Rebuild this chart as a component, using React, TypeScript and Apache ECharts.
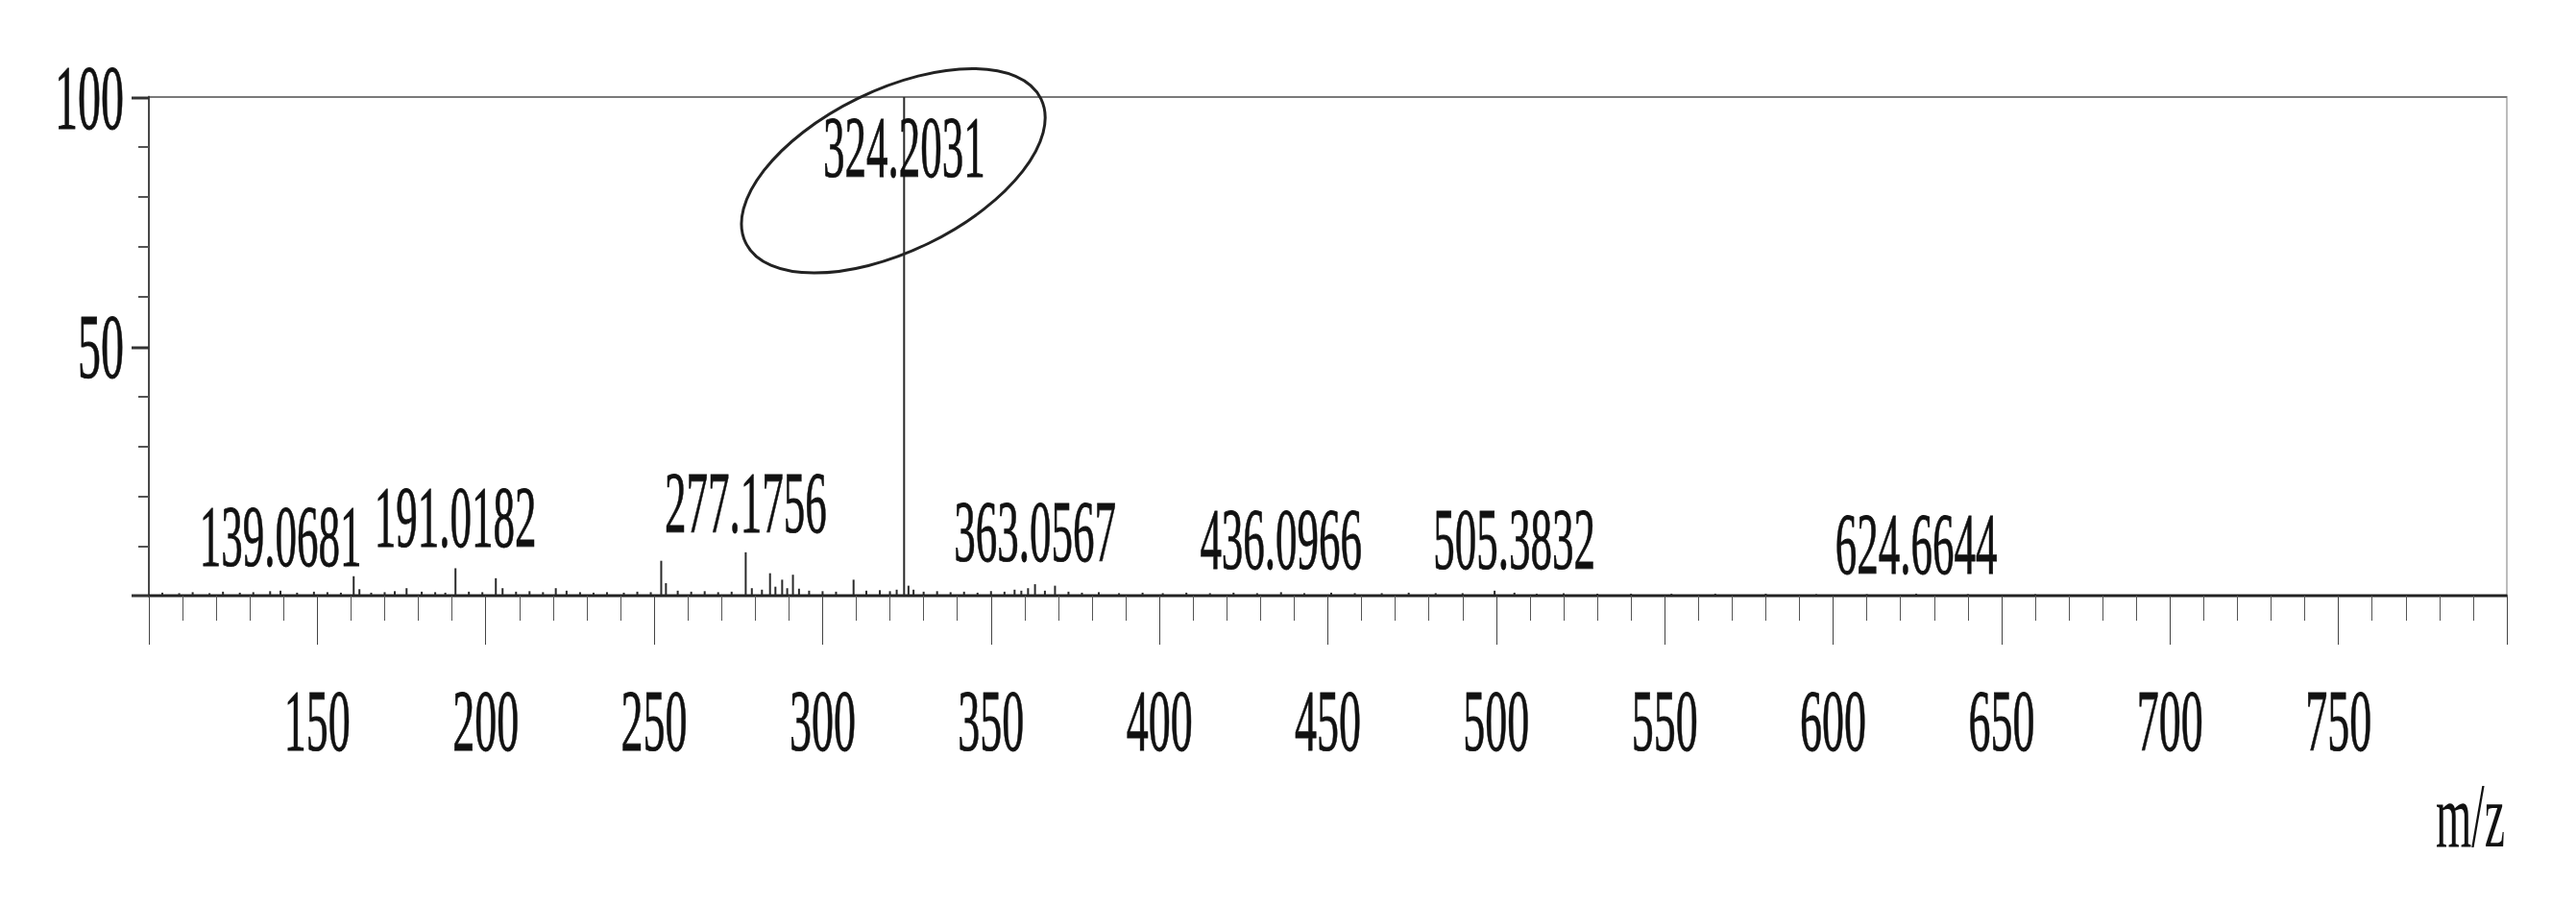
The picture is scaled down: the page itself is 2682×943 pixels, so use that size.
import React, { useEffect, useRef } from "react";
import * as echarts from "echarts";

// ---------- data ----------
const peakMz = [
  104, 109, 113, 118, 122, 127, 131, 136, 139.07, 144, 149, 153, 157, 160.8, 162.5, 166, 170, 173,
  176.5, 181, 185, 188, 191.02, 195, 199, 203, 205, 209, 213, 217, 220.8, 224, 228, 232, 236, 241,
  245, 249, 252.1, 253.5, 257, 261, 265, 269, 273, 277.18, 279, 282, 284.4, 286, 288, 289.5, 291.2,
  293, 296, 300, 304, 309.2, 313, 317, 320, 322, 324.2, 325.5, 327, 330, 334, 338, 342, 346, 350,
  354, 357, 359, 361, 363.06, 366, 369, 373, 377, 382, 388, 395, 401, 408, 415, 422, 429, 436.1,
  443, 451, 458, 466, 474, 482, 490, 499.5, 505.38, 512, 520, 530, 540, 552, 565, 580, 595, 610,
  624.66, 640, 660,
];
const peakIntensity = [
  0.6, 0.5, 0.7, 0.5, 0.8, 0.6, 0.7, 0.9, 1.0, 0.6, 0.8, 0.7, 0.6, 3.9, 1.3, 0.6, 0.7, 0.9,
  1.5, 0.8, 0.7, 0.6, 5.5, 0.8, 0.7, 3.5, 1.5, 0.8, 0.9, 0.7, 1.5, 1.0, 0.7, 0.6, 0.7, 0.6,
  0.8, 0.7, 7.0, 2.5, 1.0, 0.8, 0.9, 0.7, 0.8, 8.7, 1.5, 1.2, 4.5, 1.8, 3.2, 1.5, 4.2,
  1.4, 1.0, 0.9, 0.8, 3.2, 1.0, 1.1, 0.9, 1.2, 100, 2.0, 1.2, 0.8, 0.9, 0.7, 0.8, 0.6, 0.9,
  0.8, 1.2, 1.0, 1.5, 2.3, 1.0, 2.0, 0.8, 0.6, 0.7, 0.5, 0.6, 0.5, 0.6, 0.5, 0.6, 0.5, 0.7,
  0.5, 0.6, 0.5, 0.5, 0.6, 0.5, 0.5, 1.0, 0.6, 0.4, 0.5, 0.4, 0.4, 0.4, 0.4, 0.4, 0.3, 0.3,
  0.4, 0.3, 0.3,
];
const annotationLabels = [
  "139.0681", "191.0182", "277.1756", "324.2031", "363.0567", "436.0966", "505.3832", "624.6644",
];
const xMin = 100;
const xMax = 800;
const xStep = 50;
const yMin = 0;
const yMax = 100;
const yStep = 50;
const xAxisName = "m/z";

// ---------- layout (label heights in axis units, ring placement) ----------
const annotationLevels = [11.8, 15.6, 18.5, 89.8, 12.7, 11.2, 11.2, 10.2];
const ringCenter = [321, 85.2];

const FONT = "'Liberation Serif', 'Times New Roman', serif";
const INK = "#111111";
const STRETCH = 2;
const CHART_W = 2666;
const CHART_H = 468;

export default function App() {
  const ref = useRef<HTMLDivElement>(null);

  useEffect(() => {
    if (!ref.current) return;
    const chart = echarts.init(ref.current, null, { renderer: "svg" });

    const option: any = {
      animation: false,
      backgroundColor: "#ffffff",
      grid: {
        left: 147,
        right: 64,
        top: 46.5,
        bottom: 162,
        show: true,
        borderColor: "#7a7a7a",
        borderWidth: 1,
        backgroundColor: "transparent",
      },
      xAxis: {
        type: "value",
        min: xMin,
        max: xMax,
        interval: xStep,
        name: xAxisName,
        nameLocation: "end",
        nameGap: -2,
        nameTextStyle: {
          fontFamily: FONT,
          fontSize: 48,
          color: INK,
          align: "right",
          verticalAlign: "top",
          padding: [90, 0, 0, 0],
        },
        axisLine: { show: true, lineStyle: { color: "#222", width: 1.5 } },
        axisTick: { show: true, length: 25.5, lineStyle: { color: "#444", width: 1 } },
        minorTick: { show: true, splitNumber: 5, length: 13, lineStyle: { color: "#555", width: 1 } },
        splitLine: { show: false },
        minorSplitLine: { show: false },
        axisLabel: {
          fontFamily: FONT,
          fontSize: 46,
          color: INK,
          margin: 42,
          textBorderColor: INK,
          textBorderWidth: 0.4,
          formatter: (v: number) => (v === xMin || v === xMax ? "" : String(v)),
        },
      },
      yAxis: {
        type: "value",
        min: yMin,
        max: yMax,
        interval: yStep,
        axisLine: { show: true, lineStyle: { color: "#222", width: 1.5 } },
        axisTick: { show: true, length: 18, lineStyle: { color: "#333", width: 1.5 } },
        minorTick: { show: true, splitNumber: 5, length: 11, lineStyle: { color: "#555", width: 1 } },
        splitLine: { show: false },
        axisLabel: {
          fontFamily: FONT,
          fontSize: 48,
          color: INK,
          margin: 26,
          textBorderColor: INK,
          textBorderWidth: 0.4,
          formatter: (v: number) => (v === yMin ? "" : String(v)),
        },
      },
      series: [
        {
          type: "bar",
          barWidth: 2,
          z: 2,
          itemStyle: { color: "#2a2a2a" },
          data: peakMz.map((m, i) => [m, peakIntensity[i]]),
        },
        {
          type: "scatter",
          symbol: "circle",
          symbolSize: 1,
          z: 5,
          silent: true,
          itemStyle: { color: "rgba(0,0,0,0)" },
          label: {
            show: true,
            position: "inside",
            fontFamily: FONT,
            fontSize: 45,
            color: INK,
            opacity: 1,
            textBorderColor: INK,
            textBorderWidth: 0.4,
            formatter: (p: any) => p.name,
          },
          data: annotationLabels.map((t, i) => ({
            name: t,
            value: [Number(t), annotationLevels[i]],
          })),
        },
      ],
    };

    chart.setOption(option);

    const c = chart.convertToPixel({ gridIndex: 0 }, ringCenter) as number[];
    chart.setOption({
      graphic: [
        {
          type: "group",
          x: c[0],
          y: c[1],
          scaleY: 1 / STRETCH,
          children: [
            {
              type: "ellipse",
              shape: { cx: 0, cy: 0, rx: 171, ry: 84 },
              rotation: (26 * Math.PI) / 180,
              style: { fill: "none", stroke: "#222", lineWidth: 3 },
            },
          ],
        },
      ],
    });

    return () => chart.dispose();
  }, []);

  return (
    <div style={{ width: `${CHART_W}px`, height: `${CHART_H * STRETCH}px`, position: "relative" }}>
      <div
        ref={ref}
        style={{
          position: "absolute",
          left: 0,
          top: 0,
          width: `${CHART_W}px`,
          height: `${CHART_H}px`,
          transform: `scaleY(${STRETCH})`,
          transformOrigin: "0 0",
        }}
      />
    </div>
  );
}
